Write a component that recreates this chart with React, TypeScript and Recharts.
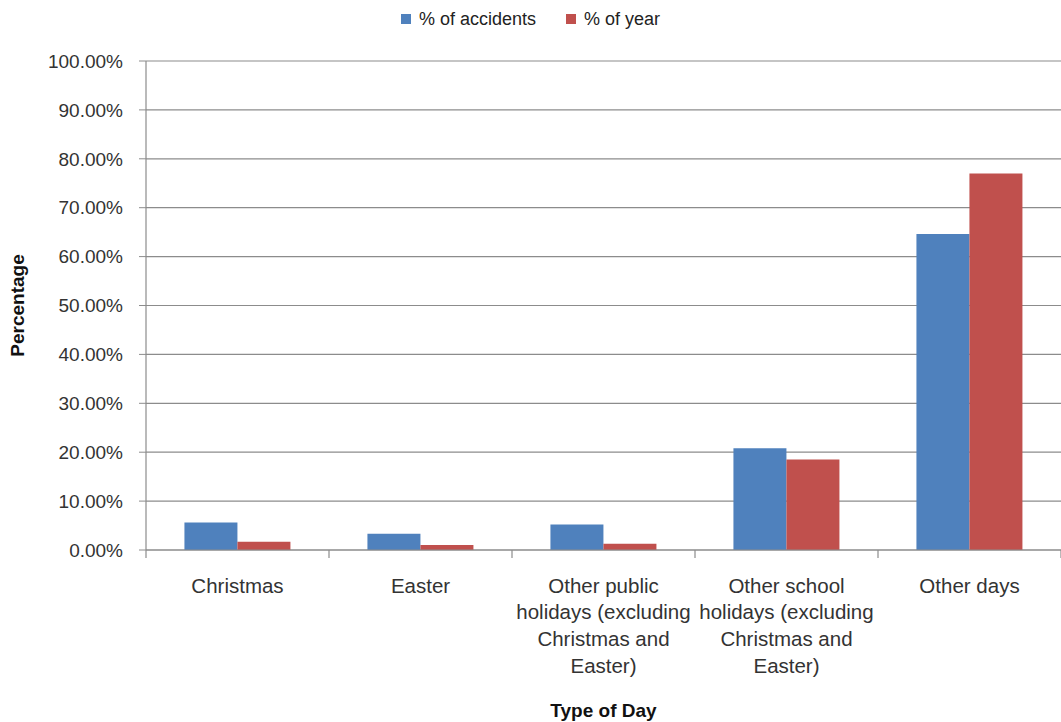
import { BarChart, Bar, XAxis, YAxis, CartesianGrid, Legend, Label } from 'recharts';

const categories = [
  'Christmas',
  'Easter',
  'Other public holidays (excluding Christmas and Easter)',
  'Other school holidays (excluding Christmas and Easter)',
  'Other days',
];

// wrapped tick text, one entry per category
const tickLines = [
  ['Christmas'],
  ['Easter'],
  ['Other public', 'holidays (excluding', 'Christmas and', 'Easter)'],
  ['Other school', 'holidays (excluding', 'Christmas and', 'Easter)'],
  ['Other days'],
];

const accidents = [5.6, 3.3, 5.2, 20.8, 64.6];
const yearShare = [1.7, 1.0, 1.3, 18.5, 77.0];

const yTicks = [0, 10, 20, 30, 40, 50, 60, 70, 80, 90, 100];

const BLUE = '#4F81BD';
const RED = '#C0504D';
const GRID = '#8c8c8c';
const FONT = '"Liberation Sans", Arial, sans-serif';

const TICK_SIZE = 6;
const TICK_MARGIN = 2;

const data = categories.map((name, i) => ({
  name,
  accidents: accidents[i],
  year: yearShare[i],
}));

// category label plus tick marks on the band edges
const CategoryTick = (props: any) => {
  const { x, y, payload, index, visibleTicksCount, width } = props;
  const lines = tickLines[payload.index] || [payload.value];
  const half = payload.offset || width / visibleTicksCount / 2;
  const axisY = y - TICK_SIZE - TICK_MARGIN;
  const edges = [x - half];
  if (index === visibleTicksCount - 1) edges.push(x + half);
  return (
    <g>
      {edges.map((ex, i) => (
        <line key={i} x1={ex} x2={ex} y1={axisY} y2={axisY + 8} stroke={GRID} strokeWidth={1.2} />
      ))}
      <text x={x} y={y} textAnchor="middle" fill="#333" fontSize={20.5} fontFamily={FONT}>
        {lines.map((line: string, i: number) => (
          <tspan key={i} x={x} y={y + 27 + i * 26.7} dominantBaseline="central">
            {line}
          </tspan>
        ))}
      </text>
    </g>
  );
};

const LegendContent = () => (
  <div
    style={{
      height: 38,
      display: 'flex',
      justifyContent: 'center',
      alignItems: 'center',
      fontFamily: FONT,
      fontSize: 18,
      color: '#222',
    }}
  >
    {[
      { label: '% of accidents', color: BLUE },
      { label: '% of year', color: RED },
    ].map((item, i) => (
      <span key={i} style={{ display: 'flex', alignItems: 'center', marginLeft: i ? 30 : 0 }}>
        <span style={{ width: 10, height: 10, background: item.color, marginRight: 8 }} />
        {item.label}
      </span>
    ))}
  </div>
);

export default function App() {
  return (
    <div>
      <style>{'body { margin: 0; }'}</style>
      <BarChart
        width={1061}
        height={722}
        data={data}
        margin={{ top: 23, right: 0, bottom: 0, left: 0 }}
        barCategoryGap="21%"
        barGap={0}
      >
        <CartesianGrid vertical={false} stroke={GRID} strokeWidth={1.2} />
        <XAxis
          dataKey="name"
          height={172}
          interval={0}
          axisLine={{ stroke: GRID, strokeWidth: 1.2 }}
          tickLine={false}
          tickSize={TICK_SIZE}
          tickMargin={TICK_MARGIN}
          tick={<CategoryTick />}
        >
          <Label
            content={({ viewBox }: any) => (
              <text
                x={viewBox.x + viewBox.width / 2}
                y={710}
                textAnchor="middle"
                dominantBaseline="central"
                fontFamily={FONT}
                fontSize={19}
                fontWeight="bold"
                fill="#111"
              >
                Type of Day
              </text>
            )}
          />
        </XAxis>
        <YAxis
          width={146}
          domain={[0, 100]}
          ticks={yTicks}
          interval={0}
          tickFormatter={(v: number) => `${v.toFixed(2)}%`}
          axisLine={{ stroke: GRID, strokeWidth: 1.2 }}
          tickLine={{ stroke: GRID }}
          tickSize={7}
          tickMargin={16}
          tick={{ fill: '#333', fontSize: 19, fontFamily: FONT }}
        >
          <Label
            content={({ viewBox }: any) => (
              <text
                x={17}
                y={viewBox.y + viewBox.height / 2}
                textAnchor="middle"
                dominantBaseline="central"
                transform={`rotate(-90, 17, ${viewBox.y + viewBox.height / 2})`}
                fontFamily={FONT}
                fontSize={19}
                fontWeight="bold"
                fill="#111"
              >
                Percentage
              </text>
            )}
          />
        </YAxis>
        <Legend
          verticalAlign="top"
          content={<LegendContent />}
          wrapperStyle={{ top: 0, left: 0, width: 1061, height: 38 }}
        />
        <Bar dataKey="accidents" name="% of accidents" fill={BLUE} isAnimationActive={false} />
        <Bar dataKey="year" name="% of year" fill={RED} isAnimationActive={false} />
      </BarChart>
    </div>
  );
}
